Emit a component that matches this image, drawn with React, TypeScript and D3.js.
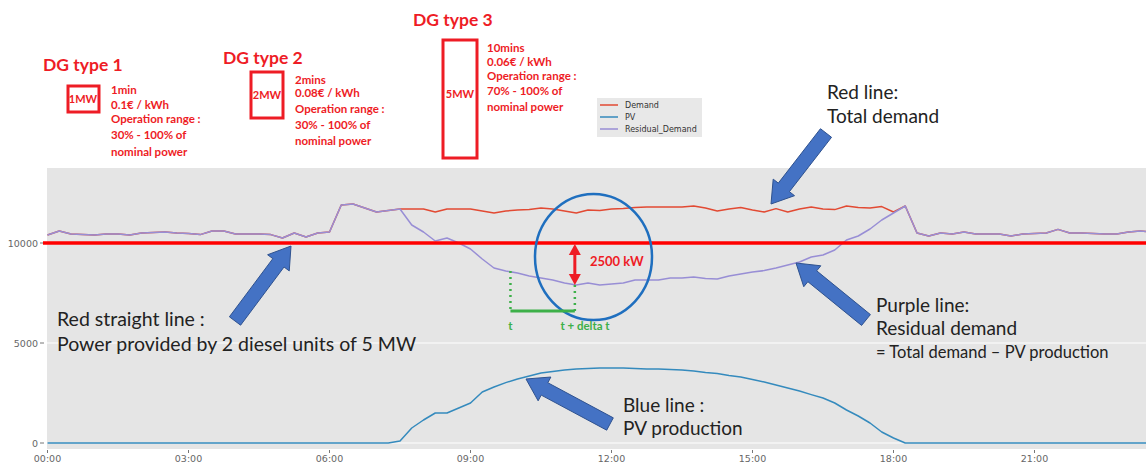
import React from 'react';
import * as d3 from 'd3';

// ---- data (kW, 15-minute steps starting 00:00) ----
const residualDemand = [
  10400, 10600, 10450, 10420, 10400, 10450, 10450, 10400, 10500, 10520,
  10550, 10500, 10480, 10420, 10600, 10600, 10450, 10450, 10450, 10420,
  10250, 10500, 10300, 10500, 10550, 11900, 11950, 11750, 11550, 11620,
  11700, 10900, 10550, 10100, 10250, 10000, 9700, 9200, 8750, 8600,
  8500, 8350, 8250, 8150, 8000, 7900, 8000, 7900, 7950, 8000,
  8150, 8150, 8150, 8250, 8250, 8300, 8220, 8200, 8350, 8450,
  8550, 8620, 8750, 8900, 9050, 9300, 9400, 9650, 10150, 10350,
  10700, 11150, 11500, 11850, 10500, 10350, 10500, 10450, 10550, 10450,
  10450, 10450, 10350, 10450, 10480, 10500, 10680, 10500, 10500, 10480,
  10450, 10450, 10550, 10600, 10550, 10550,
];
const demand = [
  10400, 10600, 10450, 10420, 10400, 10450, 10450, 10400, 10500, 10520,
  10550, 10500, 10480, 10420, 10600, 10600, 10450, 10450, 10450, 10420,
  10250, 10500, 10300, 10500, 10550, 11900, 11950, 11750, 11550, 11620,
  11700, 11700, 11700, 11550, 11700, 11700, 11700, 11600, 11500, 11600,
  11650, 11670, 11750, 11700, 11600, 11500, 11650, 11620, 11700, 11720,
  11770, 11800, 11800, 11800, 11800, 11850, 11750, 11600, 11700, 11770,
  11650, 11550, 11720, 11550, 11700, 11800, 11700, 11670, 11850, 11770,
  11750, 11820, 11550, 11850, 10500, 10350, 10500, 10450, 10550, 10450,
  10450, 10450, 10350, 10450, 10480, 10500, 10680, 10500, 10500, 10480,
  10450, 10450, 10550, 10600, 10550, 10550,
];
const pv = [
  0, 0, 0, 0, 0, 0, 0, 0, 0, 0,
  0, 0, 0, 0, 0, 0, 0, 0, 0, 0,
  0, 0, 0, 0, 0, 0, 0, 0, 0, 0,
  100, 750, 1150, 1500, 1500, 1750, 2000, 2550, 2800, 3020,
  3200, 3350, 3500, 3570, 3650, 3700, 3720, 3750, 3750, 3750,
  3720, 3700, 3700, 3680, 3650, 3600, 3520, 3480, 3380, 3300,
  3180, 3050, 2900, 2750, 2600, 2420, 2250, 2000, 1650, 1350,
  1000, 550, 250, 0, 0, 0, 0, 0, 0, 0,
  0, 0, 0, 0, 0, 0, 0, 0, 0, 0,
  0, 0, 0, 0, 0, 0,
];
const stepHours = 0.25;
const xTickHours = [0, 3, 6, 9, 12, 15, 18, 21];
const xTickLabels = ['00:00', '03:00', '06:00', '09:00', '12:00', '15:00', '18:00', '21:00'];
const yTicks = [0, 5000, 10000];
const dieselLevel = 10000;
const legendNames = ['Demand', 'PV', 'Residual_Demand'];
const colors = ['#E24A33', '#348ABD', '#988ED5'];
const tStartH = 9.85;
const tEndH = 11.22;

const W = 1146;
const H = 463;
const plot = { left: 47, top: 168, right: 1146, bottom: 449 };

const x = d3.scaleLinear().domain([0, 24]).range([47.5, 47.5 + 47 * 24]);
const y = d3.scaleLinear().domain([0, 10000]).range([443, 243]);

const RED = '#EE1C25';
const GREEN = '#3DB049';
const ARROW_FILL = '#4472C4';
const ARROW_STROKE = '#2F528F';
const ANN_FONT = 'Lato, "Open Sans", sans-serif';

function blockArrow(tail: [number, number], tip: [number, number], shaft = 14, headW = 27, headL = 21) {
  const dx = tip[0] - tail[0];
  const dy = tip[1] - tail[1];
  const len = Math.hypot(dx, dy);
  const ux = dx / len, uy = dy / len;
  const nx = -uy, ny = ux;
  const bx = tip[0] - ux * headL, by = tip[1] - uy * headL;
  const p = (px: number, py: number, k: number) => [px + nx * k, py + ny * k];
  const pts = [
    p(tail[0], tail[1], shaft / 2),
    p(bx, by, shaft / 2),
    p(bx, by, headW / 2),
    tip,
    p(bx, by, -headW / 2),
    p(bx, by, -shaft / 2),
    p(tail[0], tail[1], -shaft / 2),
  ];
  return pts.map((q) => q.join(',')).join(' ');
}

const blueArrows: { tail: [number, number]; tip: [number, number] }[] = [
  { tail: [235, 321], tip: [291, 246] },
  { tail: [826, 133], tip: [771, 204] },
  { tail: [866, 320], tip: [796, 263] },
  { tail: [610, 424], tip: [526, 379] },
];

type DG = { title: string; tx: number; ty: number; box: [number, number, number, number]; unit: string; ux: number; uy: number; lx: number; lines: string[]; lys: number[] };
const dgs: DG[] = [
  { title: 'DG type 1', tx: 43, ty: 71, box: [68, 86, 31, 26], unit: '1MW', ux: 83, uy: 103, lx: 111, lines: ['1min', '0.1€ / kWh', 'Operation range :', '30% - 100% of', 'nominal power'], lys: [94, 109, 123, 139, 156] },
  { title: 'DG type 2', tx: 223, ty: 64, box: [251, 72, 32, 46], unit: '2MW', ux: 267, uy: 99, lx: 295, lines: ['2mins', '0.08€ / kWh', 'Operation range :', '30% - 100% of', 'nominal power'], lys: [84, 97, 113, 129, 145] },
  { title: 'DG type 3', tx: 413, ty: 26, box: [443, 40, 34, 118], unit: '5MW', ux: 460, uy: 98, lx: 487, lines: ['10mins', '0.06€ / kWh', 'Operation range :', '70% - 100% of', 'nominal power'], lys: [52, 66, 80, 95, 111] },
];

const notes: { x: number; y: number; text: string; size: number }[] = [
  { x: 827, y: 99, text: 'Red line:', size: 19 },
  { x: 827, y: 123, text: 'Total demand', size: 19 },
  { x: 876, y: 312, text: 'Purple line:', size: 19 },
  { x: 876, y: 335, text: 'Residual demand', size: 19 },
  { x: 876, y: 358, text: '= Total demand \u2013 PV production', size: 16.5 },
  { x: 57, y: 326, text: 'Red straight line :', size: 19.5 },
  { x: 57, y: 351, text: 'Power provided by 2 diesel units of 5 MW', size: 19.5 },
  { x: 623, y: 412, text: 'Blue line :', size: 19 },
  { x: 623, y: 435, text: 'PV production', size: 19 },
];

export default function App() {
  const series = [demand, pv, residualDemand];
  const line = d3
    .line<number>()
    .x((_, i) => x(i * stepHours))
    .y((v) => y(v));

  const xs = x(tStartH);
  const xe = x(tEndH);
  const idxEnd = Math.round(tEndH / stepHours);
  const idxStart = Math.round(tStartH / stepHours);
  const yDiesel = y(dieselLevel);
  const yResEnd = y(residualDemand[idxEnd]);
  const yResStart = y(residualDemand[idxStart]);
  const yGreen = 311;

  return (
    <svg width={W} height={H} style={{ position: 'absolute', left: 0, top: 0, background: '#fff' }}>
      <defs>
        <clipPath id="plotclip">
          <rect x={plot.left} y={plot.top} width={plot.right - plot.left} height={plot.bottom - plot.top} />
        </clipPath>
      </defs>
      <rect x={plot.left} y={plot.top} width={plot.right - plot.left} height={plot.bottom - plot.top} fill="#E5E5E5" />
      {yTicks.map((t) => (
        <line key={'g' + t} x1={plot.left} x2={plot.right} y1={y(t)} y2={y(t)} stroke="#fff" strokeWidth={1} />
      ))}
      {/* y axis */}
      {yTicks.map((t) => (
        <g key={'yt' + t}>
          <line x1={40} x2={44} y1={y(t)} y2={y(t)} stroke="#777" strokeWidth={1} />
          <text x={38} y={y(t) + 3.5} textAnchor="end" fontFamily="DejaVu Sans" fontSize={9.5} fill="#666">
            {t}
          </text>
        </g>
      ))}
      {/* x axis */}
      {xTickHours.map((h, i) => (
        <g key={'xt' + h}>
          <line x1={x(h)} x2={x(h)} y1={450} y2={453} stroke="#777" strokeWidth={1} />
          <text x={x(h)} y={461.5} textAnchor="middle" fontFamily="DejaVu Sans" fontSize={9.5} fill="#666">
            {xTickLabels[i]}
          </text>
        </g>
      ))}
      {/* data */}
      <g clipPath="url(#plotclip)">
        {series.map((s, k) => (
          <path key={'s' + k} d={line(s) || ''} fill="none" stroke={colors[k]} strokeWidth={1.5} strokeLinejoin="round" />
        ))}
      </g>
      {/* diesel level line */}
      <line x1={43} x2={W} y1={yDiesel} y2={yDiesel} stroke="#FF0000" strokeWidth={3.5} />

      {/* legend */}
      <g>
        <rect x={597} y={98} width={105} height={39} fill="#E8E8E8" />
        {legendNames.map((n, i) => (
          <g key={'lg' + n}>
            <line x1={600} x2={618} y1={105 + i * 12} y2={105 + i * 12} stroke={colors[i]} strokeWidth={1.5} />
            <text x={625} y={108 + i * 12} fontFamily="DejaVu Sans" fontSize={8} fill="#333">
              {n}
            </text>
          </g>
        ))}
      </g>

      {/* DG annotations */}
      {dgs.map((d) => (
        <g key={d.title}>
          <text x={d.tx} y={d.ty} fontFamily={ANN_FONT} fontWeight="bold" fontSize={17.5} fill={RED}>
            {d.title}
          </text>
          <rect x={d.box[0]} y={d.box[1]} width={d.box[2]} height={d.box[3]} fill="none" stroke={RED} strokeWidth={3} />
          <text x={d.ux} y={d.uy} textAnchor="middle" fontFamily={ANN_FONT} fontWeight="bold" fontSize={11} fill={RED}>
            {d.unit}
          </text>
          {d.lines.map((l, i) => (
            <text key={l + i} x={d.lx} y={d.lys[i]} fontFamily={ANN_FONT} fontWeight="bold" fontSize={11.5} fill={RED}>
              {l}
            </text>
          ))}
        </g>
      ))}

      {/* ellipse and 2500 kW */}
      <ellipse cx={593.5} cy={257} rx={58.5} ry={63} fill="none" stroke="#1F6FBF" strokeWidth={2.5} />
      <line x1={xe} x2={xe} y1={yDiesel + 10} y2={yResEnd - 9} stroke={RED} strokeWidth={3} />
      <polygon points={`${xe},${yDiesel + 1} ${xe - 6},${yDiesel + 12} ${xe + 6},${yDiesel + 12}`} fill={RED} />
      <polygon points={`${xe},${yResEnd} ${xe - 6},${yResEnd - 11} ${xe + 6},${yResEnd - 11}`} fill={RED} />
      <text x={590} y={266} fontFamily={ANN_FONT} fontWeight="bold" fontSize={13} fill={RED}>
        2500 kW
      </text>

      {/* green t / t+dt */}
      <line x1={xs} x2={xs} y1={yResStart} y2={yGreen} stroke={GREEN} strokeWidth={2.5} strokeDasharray="2,4" />
      <line x1={xe} x2={xe} y1={yResEnd} y2={yGreen} stroke={GREEN} strokeWidth={2.5} strokeDasharray="2,4" />
      <line x1={xs} x2={xe} y1={yGreen} y2={yGreen} stroke={GREEN} strokeWidth={3} />
      <text x={xs} y={330} textAnchor="middle" fontFamily={ANN_FONT} fontWeight="bold" fontSize={11.5} fill={GREEN}>
        t
      </text>
      <text x={585} y={330} textAnchor="middle" fontFamily={ANN_FONT} fontWeight="bold" fontSize={11.5} fill={GREEN}>
        t + delta t
      </text>

      {/* blue block arrows */}
      {blueArrows.map((a, i) => (
        <polygon key={'ba' + i} points={blockArrow(a.tail, a.tip)} fill={ARROW_FILL} stroke={ARROW_STROKE} strokeWidth={1} />
      ))}

      {/* notes */}
      {notes.map((n) => (
        <text key={n.text} x={n.x} y={n.y} fontFamily={ANN_FONT} fontSize={n.size} fill="#222">
          {n.text}
        </text>
      ))}
    </svg>
  );
}
